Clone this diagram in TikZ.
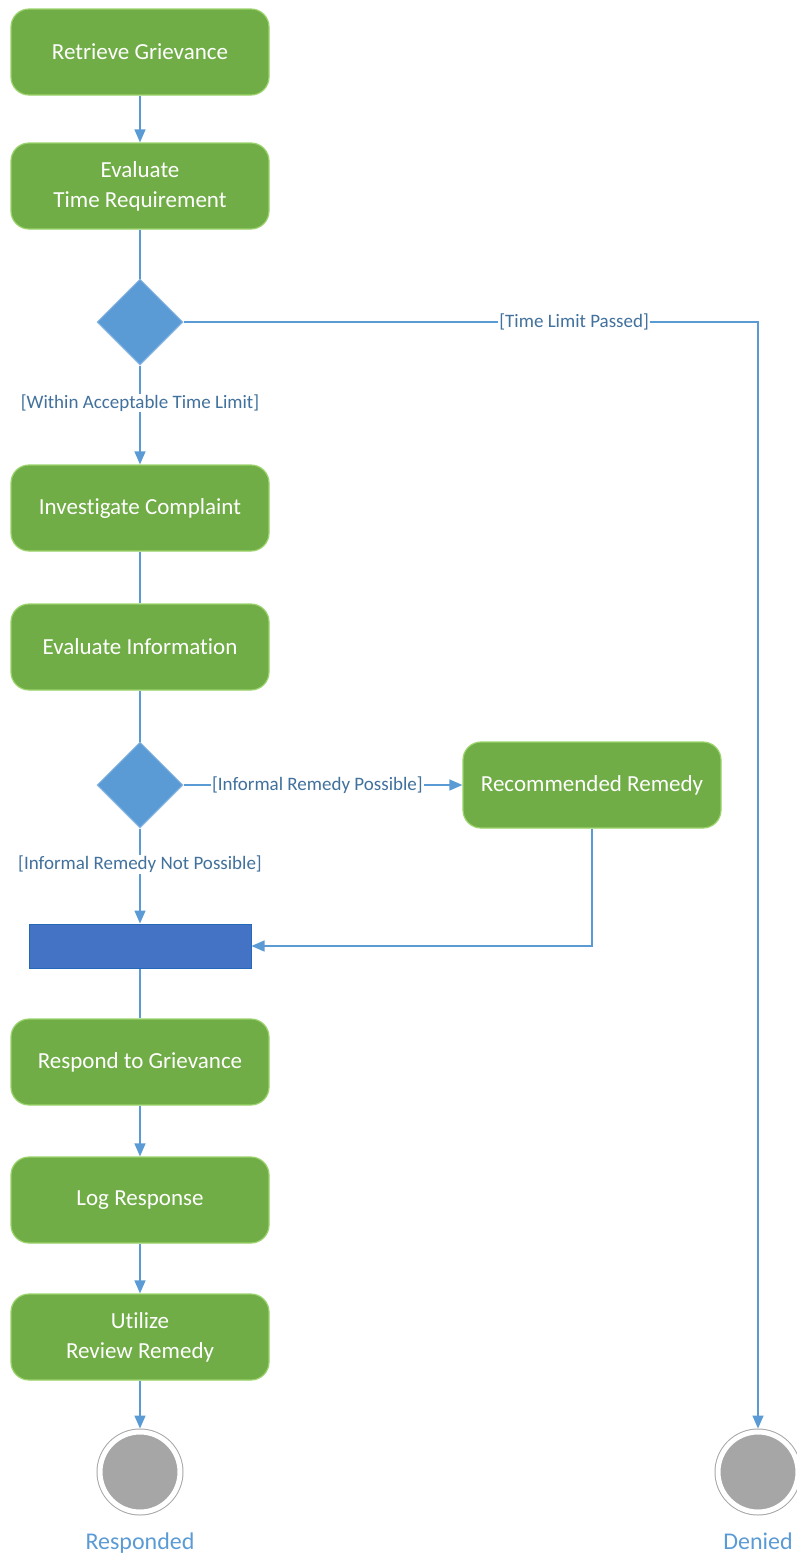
\documentclass[tikz,border=0pt]{standalone}
\usepackage{fontspec}
\setmainfont{Carlito}[Ligatures=NoCommon]
\usetikzlibrary{shapes.geometric,arrows.meta,positioning}

\definecolor{actgreen}{HTML}{70AD47}
\definecolor{actborder}{HTML}{9BD36B}
\definecolor{flowblue}{HTML}{5B9BD5}
\definecolor{diaborder}{HTML}{8DB9E2}
\definecolor{guardblue}{HTML}{41719C}
\definecolor{barblue}{HTML}{4472C4}
\definecolor{barborder}{HTML}{2468B8}
\definecolor{endgray}{HTML}{A6A6A6}

\tikzset{
  activity/.style={draw=actborder, line width=1.2pt, fill=actgreen, rounded corners=18pt,
    minimum width=258pt, minimum height=86pt, inner sep=0pt, text=white, align=center,
    font=\fontsize{23}{30}\selectfont},
  decision/.style={diamond, draw=diaborder, line width=1pt, fill=flowblue,
    minimum width=86pt, minimum height=86pt, inner sep=0pt},
  joinbar/.style={draw=barborder, line width=1pt, fill=barblue, minimum width=222pt,
    minimum height=44pt, inner sep=0pt},
  finalstate/.style={circle, fill=endgray, draw=endgray, line width=1pt, double=white,
    double distance=5pt, minimum size=80pt, inner sep=0pt, outer sep=3.5pt},
  endlabel/.style={text=flowblue, font=\fontsize{24}{26}\selectfont, inner sep=0pt, anchor=base},
  guard/.style={fill=white, text=guardblue, font=\fontsize{19}{22}\selectfont, inner sep=1pt},
  link/.style={draw=flowblue, line width=1.5pt},
  flow/.style={link, -{Triangle[width=11pt,length=13pt]}}
}

\begin{document}
\begin{tikzpicture}[x=1pt, y=-1pt]
\useasboundingbox (0,0) rectangle (796,1556);

% Main column of activities
\foreach \name/\y/\txt in {retrieve/52/Retrieve Grievance,
    evaltime/186/{Evaluate\\Time Requirement},
    investigate/508/Investigate Complaint,
    evalinfo/647/Evaluate Information,
    respond/1062/Respond to Grievance,
    logresp/1200/Log Response,
    utilize/1337/{Utilize\\Review Remedy}} {
  \node[activity] (\name) at (140,\y) {\txt};
}
\node[activity] (recommended) at (592,785) {Recommended Remedy};

% Decisions and join bar
\node[decision] (timecheck) at (140,322) {};
\node[decision] (remedycheck) at (140,785) {};
\node[joinbar] (join) at (140,946) {};

% Final states
\node[finalstate] (responded) at (140,1472) {};
\node[finalstate] (denied) at (758,1472) {};
\node[endlabel] (respondedlabel) at (140,1549) {Responded};
\node[endlabel] (deniedlabel) at (758,1549) {Denied};

% Connectors
\draw[flow] (retrieve) -- (evaltime);
\draw[link] (evaltime) -- (timecheck);
\draw[flow] (timecheck) -- node[guard, pos=0.38] {[Within Acceptable Time Limit]} (investigate);
\draw[flow] (timecheck.east) -| node[guard, pos=0.34] {[Time Limit Passed]} (denied.north);
\draw[link] (investigate) -- (evalinfo);
\draw[link] (evalinfo) -- (remedycheck);
\draw[flow] (remedycheck) -- node[guard, pos=0.48] {[Informal Remedy Possible]} (recommended);
\draw[flow] (remedycheck) -- node[guard, pos=0.38] {[Informal Remedy Not Possible]} (join);
\draw[flow] (recommended) |- (join);
\draw[link] (join) -- (respond);
\draw[flow] (respond) -- (logresp);
\draw[flow] (logresp) -- (utilize);
\draw[flow] (utilize) -- (responded);
\end{tikzpicture}
\end{document}
